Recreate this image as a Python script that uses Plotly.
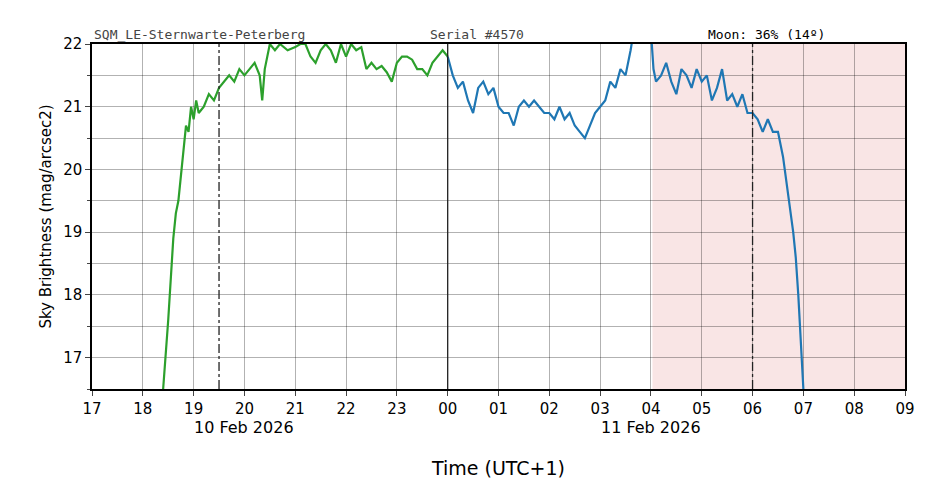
import plotly.graph_objects as go

green_t = [18.4,18.5,18.6,18.65,18.7,18.75,18.8,18.85,18.9,18.95,19.0,19.05,19.1,19.2,19.3,19.4,19.5,19.6,19.7,19.8,19.9,20.0,20.1,20.2,20.3,20.35,20.4,20.5,20.6,20.7,20.85,21.0,21.1,21.2,21.3,21.4,21.5,21.6,21.7,21.8,21.9,22.0,22.1,22.2,22.3,22.4,22.5,22.6,22.7,22.8,22.9,23.0,23.1,23.2,23.3,23.4,23.5,23.6,23.7,23.8,23.9,24.0]
green_v = [16.5,17.6,18.9,19.3,19.5,19.9,20.3,20.7,20.6,21.0,20.8,21.1,20.9,21.0,21.2,21.1,21.3,21.4,21.5,21.4,21.6,21.5,21.6,21.7,21.5,21.1,21.6,22.0,21.9,22.0,21.9,21.95,22.0,22.0,21.8,21.7,21.9,22.0,21.9,21.7,22.0,21.8,22.0,21.9,21.95,21.6,21.7,21.6,21.65,21.55,21.4,21.7,21.8,21.8,21.75,21.6,21.6,21.5,21.7,21.8,21.9,21.8]
blue_t = [24.0,24.1,24.2,24.3,24.4,24.5,24.6,24.7,24.8,24.9,25.0,25.1,25.2,25.3,25.4,25.5,25.6,25.7,25.8,25.9,26.0,26.1,26.2,26.3,26.4,26.5,26.6,26.7,26.8,26.9,27.0,27.1,27.2,27.3,27.4,27.5,27.6,27.7,27.9,28.0,28.05,28.1,28.2,28.3,28.4,28.5,28.6,28.7,28.8,28.9,29.0,29.1,29.2,29.3,29.4,29.5,29.6,29.7,29.8,29.9,30.0,30.1,30.2,30.3,30.4,30.5,30.6,30.7,30.8,30.85,30.9,31.0]
blue_v = [21.8,21.5,21.3,21.4,21.1,20.9,21.3,21.4,21.2,21.3,21.0,20.9,20.9,20.7,21.0,21.1,21.0,21.1,21.0,20.9,20.9,20.8,21.0,20.8,20.9,20.7,20.6,20.5,20.7,20.9,21.0,21.1,21.4,21.3,21.6,21.5,21.9,22.4,23.0,22.2,21.6,21.4,21.5,21.7,21.4,21.2,21.6,21.5,21.3,21.6,21.4,21.5,21.1,21.3,21.6,21.1,21.2,21.0,21.2,20.9,20.9,20.8,20.6,20.8,20.6,20.6,20.2,19.6,19.0,18.6,18.0,16.5]
tick_vals = list(range(17, 34))
tick_text = ["17","18","19","20","21","22","23","00","01","02","03","04","05","06","07","08","09"]

fig = go.Figure()
fig.add_trace(go.Scatter(x=green_t, y=green_v, mode="lines", line=dict(color="#2ca02c", width=2.2)))
fig.add_trace(go.Scatter(x=blue_t, y=blue_v, mode="lines", line=dict(color="#1f77b4", width=2.2)))

fig.add_shape(type="rect", x0=28.03, x1=33, y0=16.5, y1=22, fillcolor="rgba(240,190,190,0.4)", line_width=0, layer="below")
for xv, d in [(19.5, "dashdot"), (24, "solid"), (30, "dashdot")]:
    fig.add_shape(type="line", x0=xv, x1=xv, y0=16.5, y1=22, line=dict(color="#222", width=1.3, dash=d))

fig.update_layout(
    width=926, height=488, showlegend=False, plot_bgcolor="white", paper_bgcolor="white",
    margin=dict(l=84, r=29, t=36, b=107),
    font=dict(family="DejaVu Sans", size=15, color="black"),
    xaxis=dict(range=[17, 33], tickvals=tick_vals, ticktext=tick_text, showgrid=True, gridcolor="rgba(0,0,0,0.3)",
               ticks="outside", ticklen=5, showline=True, linecolor="black", linewidth=1.5, mirror=True,
               automargin=False, title=dict(text="Time (UTC+1)", font=dict(size=19), standoff=45), zeroline=False),
    yaxis=dict(range=[16.5, 22], dtick=1, showgrid=True, gridcolor="rgba(0,0,0,0.3)",
               minor=dict(dtick=0.5, showgrid=True, gridcolor="rgba(0,0,0,0.3)", ticks="outside", ticklen=3),
               ticks="outside", ticklen=5, showline=True, linecolor="black", linewidth=1.5, mirror=True,
               automargin=False, title=dict(text="Sky Brightness (mag/arcsec2)", font=dict(size=15), standoff=8), zeroline=False),
)
for xv, txt in [(20, "10 Feb 2026"), (28, "11 Feb 2026")]:
    fig.add_annotation(x=xv, y=-0.145, xref="x", yref="paper", text=txt, showarrow=False, font=dict(size=16))
mono = "DejaVu Sans Mono"
fig.add_annotation(x=0, y=1.0, xref="paper", yref="paper", xanchor="left", yanchor="bottom", text="SQM_LE-Sternwarte-Peterberg",
                   showarrow=False, font=dict(family=mono, size=13, color="#444"))
fig.add_annotation(x=0.413, y=1.0, xref="paper", yref="paper", xanchor="left", yanchor="bottom", text="Serial #4570",
                   showarrow=False, font=dict(family=mono, size=13, color="#444"))
fig.add_annotation(x=0.755, y=1.0, xref="paper", yref="paper", xanchor="left", yanchor="bottom", text="Moon: 36% (14º)",
                   showarrow=False, font=dict(family=mono, size=13, color="black"))
fig.write_html("out.html")
